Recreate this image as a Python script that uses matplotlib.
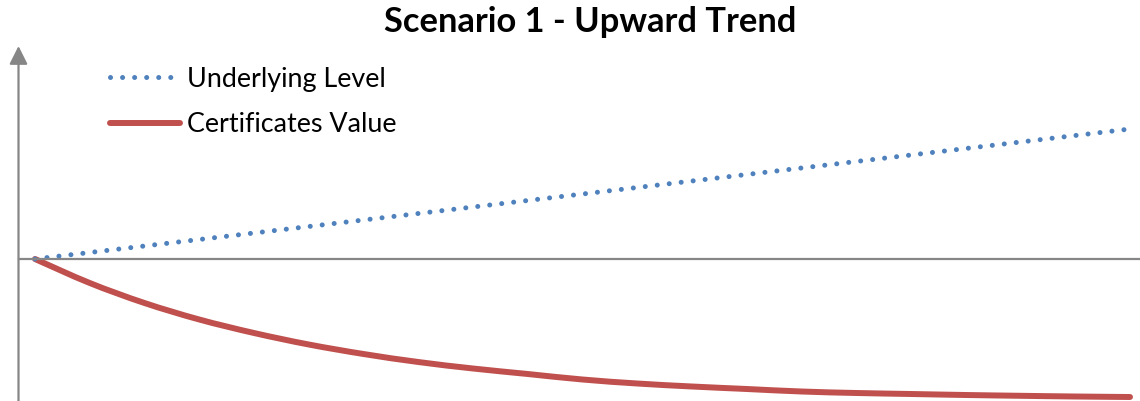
import numpy as np
import matplotlib.pyplot as plt
from matplotlib.path import Path
from matplotlib.patches import PathPatch
from matplotlib.lines import Line2D

plt.rcParams['font.family'] = ['Lato', 'DejaVu Sans']

# time steps and values (arbitrary units)
steps = list(range(21))
underlying = [0.0, 6.5, 13.0, 19.5, 26.0, 32.5, 39.0, 45.5, 52.0, 58.5, 65.0,
              71.5, 78.0, 84.5, 91.0, 97.5, 104.0, 110.5, 117.0, 123.5, 130.0]
certificates = [0.0, -24.0, -44.0, -60.5, -74.0, -85.5, -95.0, -103.0, -109.5, -115.0, -120.5,
                -124.5, -127.5, -130.0, -132.5, -134.0, -135.0, -136.0, -136.8, -137.5, -138.0]

BLUE = '#4F81BD'
RED = '#C0504D'
GREY = '#868686'


def smooth_path(x, y):
    """Bezier path through the points, like a spreadsheet 'smoothed line'."""
    x = np.asarray(x, float)
    y = np.asarray(y, float)
    verts = [(x[0], y[0])]
    codes = [Path.MOVETO]
    n = len(x)
    for i in range(n - 1):
        x0, y0 = (x[i - 1], y[i - 1]) if i > 0 else (x[i], y[i])
        x3, y3 = (x[i + 2], y[i + 2]) if i + 2 < n else (x[i + 1], y[i + 1])
        c1 = (x[i] + (x[i + 1] - x0) / 6, y[i] + (y[i + 1] - y0) / 6)
        c2 = (x[i + 1] - (x3 - x[i]) / 6, y[i + 1] - (y3 - y[i]) / 6)
        verts += [c1, c2, (x[i + 1], y[i + 1])]
        codes += [Path.CURVE4] * 3
    return Path(verts, codes)


W, H = 1140, 401
fig = plt.figure(figsize=(W / 100, H / 100), dpi=100)
# axes: left edge at the y axis, top at the arrow tip
ax = fig.add_axes([18.5 / W, 0, 1 - 18.5 / W, 1 - 46 / H])

px_per_step = (1130 - 35) / 20
ax.set_xlim((18.5 - 35) / px_per_step, (W - 35) / px_per_step)
ax.set_ylim(-(H - 259), 259 - 46)

blue_style = dict(color=BLUE, lw=3.6, linestyle=(0, (0.01, 2.4)), dash_capstyle='round')
ax.plot(steps, underlying, **blue_style)
ax.add_patch(PathPatch(smooth_path(steps, certificates), facecolor='none',
                       edgecolor=RED, lw=4.3, capstyle='round'))

for s in ['top', 'right', 'left']:
    ax.spines[s].set_visible(False)
ax.spines['bottom'].set_position(('data', 0))
ax.spines['bottom'].set_color(GREY)
ax.spines['bottom'].set_linewidth(1.6)
ax.set_xticks([])
ax.set_yticks([])

# y axis with arrow head
ax.annotate('', xy=(0, 1), xytext=(0, 0), xycoords='axes fraction',
            arrowprops=dict(arrowstyle='-|>,head_length=0.5,head_width=0.25',
                            color=GREY, lw=1.6, mutation_scale=22,
                            shrinkA=0, shrinkB=0), annotation_clip=False)

fig.text(590 / W, 1 - 22 / H, 'Scenario 1 - Upward Trend', ha='center', va='center',
         fontsize=24.8, fontweight='bold')

handles = [Line2D([], [], **blue_style),
           Line2D([], [], color=RED, lw=4.3, solid_capstyle='round')]
ax.legend(handles, ['Underlying Level', 'Certificates Value'],
          loc='upper left', bbox_to_anchor=(110 / W, 1 - 66.5 / H),
          bbox_transform=fig.transFigure, frameon=False, fontsize=19.4,
          handlelength=2.6, handletextpad=0.26, labelspacing=0.76,
          borderaxespad=0, borderpad=0)

fig.savefig('out.png', dpi=100)
